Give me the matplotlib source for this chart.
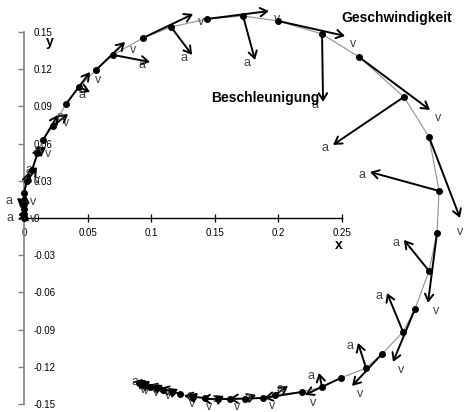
import matplotlib
matplotlib.use("Agg")
import matplotlib.pyplot as plt

plt.rcParams["font.family"] = ["Liberation Sans", "DejaVu Sans"]

# measured positions, stored as pairs: (first point, second point) of each step
pos_x = [0.0000, 0.0000, 0.0000, 0.0000, 0.0000, 0.0024, 0.0063, 0.0102,
         0.0149, 0.0228, 0.0330, 0.0432, 0.0566, 0.0700, 0.0936, 0.1156,
         0.1439, 0.1722, 0.1997, 0.2343, 0.2634, 0.2987, 0.3184, 0.3263,
         0.3247, 0.3184, 0.3074, 0.2980, 0.2814, 0.2689, 0.2492, 0.2343,
         0.2186, 0.1973, 0.1879, 0.1737, 0.1619, 0.1525, 0.1423, 0.1329,
         0.1226, 0.1164, 0.1093, 0.1046, 0.0991, 0.0951, 0.0920, 0.0904]
pos_y = [0.0000, 0.0032, 0.0073, 0.0113, 0.0202, 0.0298, 0.0387, 0.0524,
         0.0629, 0.0742, 0.0919, 0.1056, 0.1194, 0.1315, 0.1452, 0.1540,
         0.1605, 0.1629, 0.1589, 0.1484, 0.1298, 0.0976, 0.0653, 0.0218,
         -0.0121, -0.0427, -0.0734, -0.0919, -0.1097, -0.1210, -0.1290, -0.1363,
         -0.1403, -0.1427, -0.1452, -0.1460, -0.1460, -0.1460, -0.1452, -0.1444,
         -0.1419, -0.1403, -0.1387, -0.1371, -0.1363, -0.1347, -0.1339, -0.1331]

# velocity arrows (drawn from the first point of each pair)
vel_x = [0.0008, 0.0008, 0.0039, 0.0063, 0.0118, 0.0189, 0.0228, 0.0393,
         0.0487, 0.0527, 0.0558, 0.0244, -0.0071, -0.0173, -0.0235, -0.0283,
         -0.0299, -0.0267, -0.0227, -0.0165, -0.0157, -0.0118, -0.0095, -0.0047]
vel_y = [0.0056, 0.0121, 0.0169, 0.0194, 0.0202, 0.0258, 0.0225, 0.0193,
         0.0064, -0.0121, -0.0427, -0.0653, -0.0564, -0.0427, -0.0258, -0.0137,
         -0.0049, -0.0008, 0.0000, 0.0017, 0.0048, 0.0040, 0.0032, 0.0016]

# acceleration arrows (drawn from the second point of each pair)
acc_x = [-0.0047, -0.0055, 0.0078, 0.0071, 0.0118, 0.0087, 0.0291, 0.0165,
         0.0094, 0.0008, -0.0558, -0.0543, -0.0197, -0.0126, -0.0063, -0.0024,
         0.0102, 0.0087, 0.0047, 0.0039, 0.0047, 0.0047, 0.0040, 0.0032]
acc_y = [-0.0008, 0.0048, 0.0113, 0.0049, 0.0097, -0.0040, -0.0057, -0.0225,
         -0.0355, -0.0549, -0.0387, 0.0153, 0.0250, 0.0314, 0.0202, 0.0113,
         0.0072, 0.0033, 0.0025, 0.0033, 0.0024, 0.0024, 0.0032, 0.0033]

x_ticks = [0, 0.05, 0.1, 0.15, 0.2, 0.25]
y_ticks = [-0.15, -0.12, -0.09, -0.06, -0.03, 0, 0.03, 0.06, 0.09, 0.12, 0.15]

fig = plt.figure(figsize=(4.65, 4.12), dpi=100)
ax = fig.add_axes([0, 0, 1, 1])
ax.set_xlim(-0.0189, 0.3467)
ax.set_ylim(-0.1565, 0.1758)

# axes crossing at the origin, Excel style
for side in ["top", "left"]:
    ax.spines[side].set_visible(False)
ax.spines["bottom"].set_position(("data", 0))
ax.spines["bottom"].set_bounds(0, 0.25)
ax.spines["bottom"].set_linewidth(1.0)
ax.spines["right"].set_position(("data", 0))
ax.spines["right"].set_bounds(-0.15, 0.15)
ax.spines["right"].set_color("#808080")
ax.spines["right"].set_linewidth(1.2)

ax.set_xticks(x_ticks)
ax.set_xticklabels([f"{v:g}" for v in x_ticks])
ax.set_yticks(y_ticks)
ax.set_yticklabels([f"{v:g}" for v in y_ticks])
ax.yaxis.set_ticks_position("right")
ax.tick_params(axis="x", direction="inout", length=6, width=0.9, pad=4, labelsize=7)
ax.tick_params(axis="y", direction="in", length=4, width=1.0, color="#808080", pad=7, labelsize=7)

ax.text(0.2476, -0.0218, "x", fontsize=10, fontweight="bold", ha="center", va="center")
ax.text(0.0204, 0.1419, "y", fontsize=10, fontweight="bold", ha="center", va="center")

# trajectory
ax.plot(pos_x, pos_y, color="#909090", lw=0.8, zorder=2)
ax.plot(pos_x, pos_y, "o", color="black", ms=4, zorder=4)

arrow = dict(arrowstyle="->,head_length=0.5,head_width=0.3", lw=1.4, color="black",
             shrinkA=0, shrinkB=0)
label_kw = dict(textcoords="offset points", ha="center", va="center", fontsize=9, color="#404040")
v_shift = {11: (0, -10)}

for i in range(len(vel_x)):
    x0, y0 = pos_x[2 * i], pos_y[2 * i]
    tip = (x0 + vel_x[i], y0 + vel_y[i])
    ax.annotate("", xy=tip, xytext=(x0, y0), arrowprops=arrow, zorder=3)
    ax.annotate("v", xy=tip, xytext=v_shift.get(i, (6, -6)), **label_kw)

    x1, y1 = pos_x[2 * i + 1], pos_y[2 * i + 1]
    tip = (x1 + acc_x[i], y1 + acc_y[i])
    ax.annotate("", xy=tip, xytext=(x1, y1), arrowprops=arrow, zorder=3)
    ax.annotate("a", xy=tip, xytext=(-6, -2), **label_kw)

ax.text(0.2932, 0.1613, "Geschwindigkeit", fontsize=10, fontweight="bold", ha="center", va="center")
ax.text(0.1895, 0.0968, "Beschleunigung", fontsize=10, fontweight="bold", ha="center", va="center")

fig.savefig("out.png", dpi=100)
